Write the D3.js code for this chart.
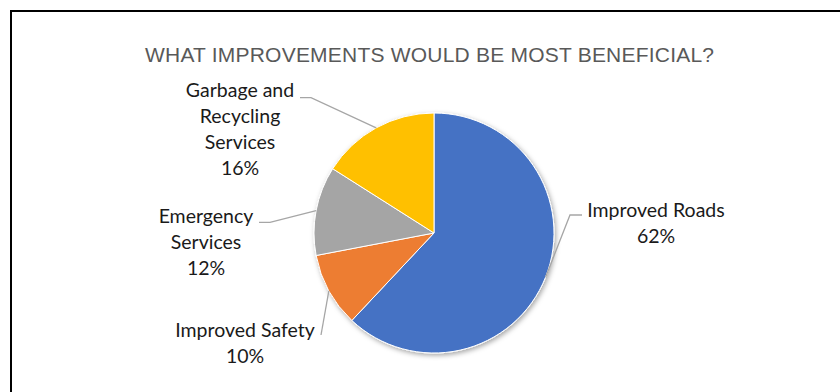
<!DOCTYPE html>
<html>
<head>
<meta charset="utf-8">
<script src="https://cdn.jsdelivr.net/npm/d3@7"></script>
<style>
  body { margin: 0; background: #fff; }
</style>
</head>
<body>
<div id="chart"></div>
<script>
// data
const categories = ["Improved Roads", "Improved Safety", "Emergency Services", "Garbage and Recycling Services"];
const percents = [62, 10, 12, 16];
const labelLines = [["Improved Roads"], ["Improved Safety"], ["Emergency", "Services"], ["Garbage and", "Recycling", "Services"]];
const colors = ["#4472c4", "#ed7d31", "#a5a5a5", "#ffc000"];
const title = "WHAT IMPROVEMENTS WOULD BE MOST BENEFICIAL?";

// layout
const width = 840, height = 392;
const cx = 434, cy = 233, radius = 120;
const lineGap = 25.8;
// label centre x, first baseline y, leader start and elbow
const labelLayout = [
    { x: 656, y: 216.7, start: [582, 215], elbow: [570, 215] },
    { x: 245, y: 336.7, start: [321, 335], elbow: null },
    { x: 206, y: 223.3, start: [259, 222.3], elbow: [270, 222.3] },
    { x: 240, y: 97.3, start: [300, 97.7], elbow: [311, 97.7] }
];

const svg = d3.select("#chart")
    .append("svg")
    .attr("width", width)
    .attr("height", height);

const defs = svg.append("defs");
const shadow = defs.append("filter")
    .attr("id", "shadow")
    .attr("x", "-20%").attr("y", "-20%")
    .attr("width", "140%").attr("height", "140%");
shadow.append("feDropShadow")
    .attr("dx", 1.5).attr("dy", 2)
    .attr("stdDeviation", 2.5)
    .attr("flood-color", "#000")
    .attr("flood-opacity", 0.35);

// outer frame
svg.append("rect")
    .attr("x", 11).attr("y", 11)
    .attr("width", 900).attr("height", 500)
    .attr("fill", "none")
    .attr("stroke", "#000")
    .attr("stroke-width", 2);

svg.append("text")
    .attr("x", 429.5).attr("y", 62)
    .attr("text-anchor", "middle")
    .attr("textLength", 569)
    .attr("lengthAdjust", "spacing")
    .style("font-family", "'Liberation Sans', Arial, sans-serif")
    .style("font-size", "21px")
    .style("fill", "#595959")
    .text(title);

const pie = d3.pie().sort(null).value(function(d) { return d; });
const arcs = pie(percents);
const arc = d3.arc().innerRadius(0).outerRadius(radius);
const edgeArc = d3.arc().innerRadius(radius).outerRadius(radius);

const g = svg.append("g").attr("transform", `translate(${cx},${cy})`);

g.append("g")
    .attr("filter", "url(#shadow)")
    .selectAll("path")
    .data(arcs)
    .join("path")
    .attr("d", arc)
    .attr("fill", function(d, i) { return colors[i]; })
    .attr("stroke", "#fff")
    .attr("stroke-width", 1);

// leader lines
arcs.forEach(function(d, i) {
    const lay = labelLayout[i];
    const c = edgeArc.centroid(d);
    const pts = [lay.start];
    if (lay.elbow) pts.push(lay.elbow);
    pts.push([cx + c[0], cy + c[1]]);
    svg.append("path")
        .attr("d", d3.line()(pts))
        .attr("fill", "none")
        .attr("stroke", "#a6a6a6")
        .attr("stroke-width", 1.3);
});

// labels
categories.forEach(function(name, i) {
    const lay = labelLayout[i];
    const lines = labelLines[i].concat([percents[i] + "%"]);
    const t = svg.append("text")
        .attr("text-anchor", "middle")
        .style("font-family", "Lato, 'Open Sans', sans-serif")
        .style("font-size", "19.5px")
        .style("fill", "#1a1a1a");
    lines.forEach(function(line, j) {
        t.append("tspan")
            .attr("x", lay.x)
            .attr("y", lay.y + j * lineGap)
            .text(line);
    });
});
</script>
</body>
</html>
